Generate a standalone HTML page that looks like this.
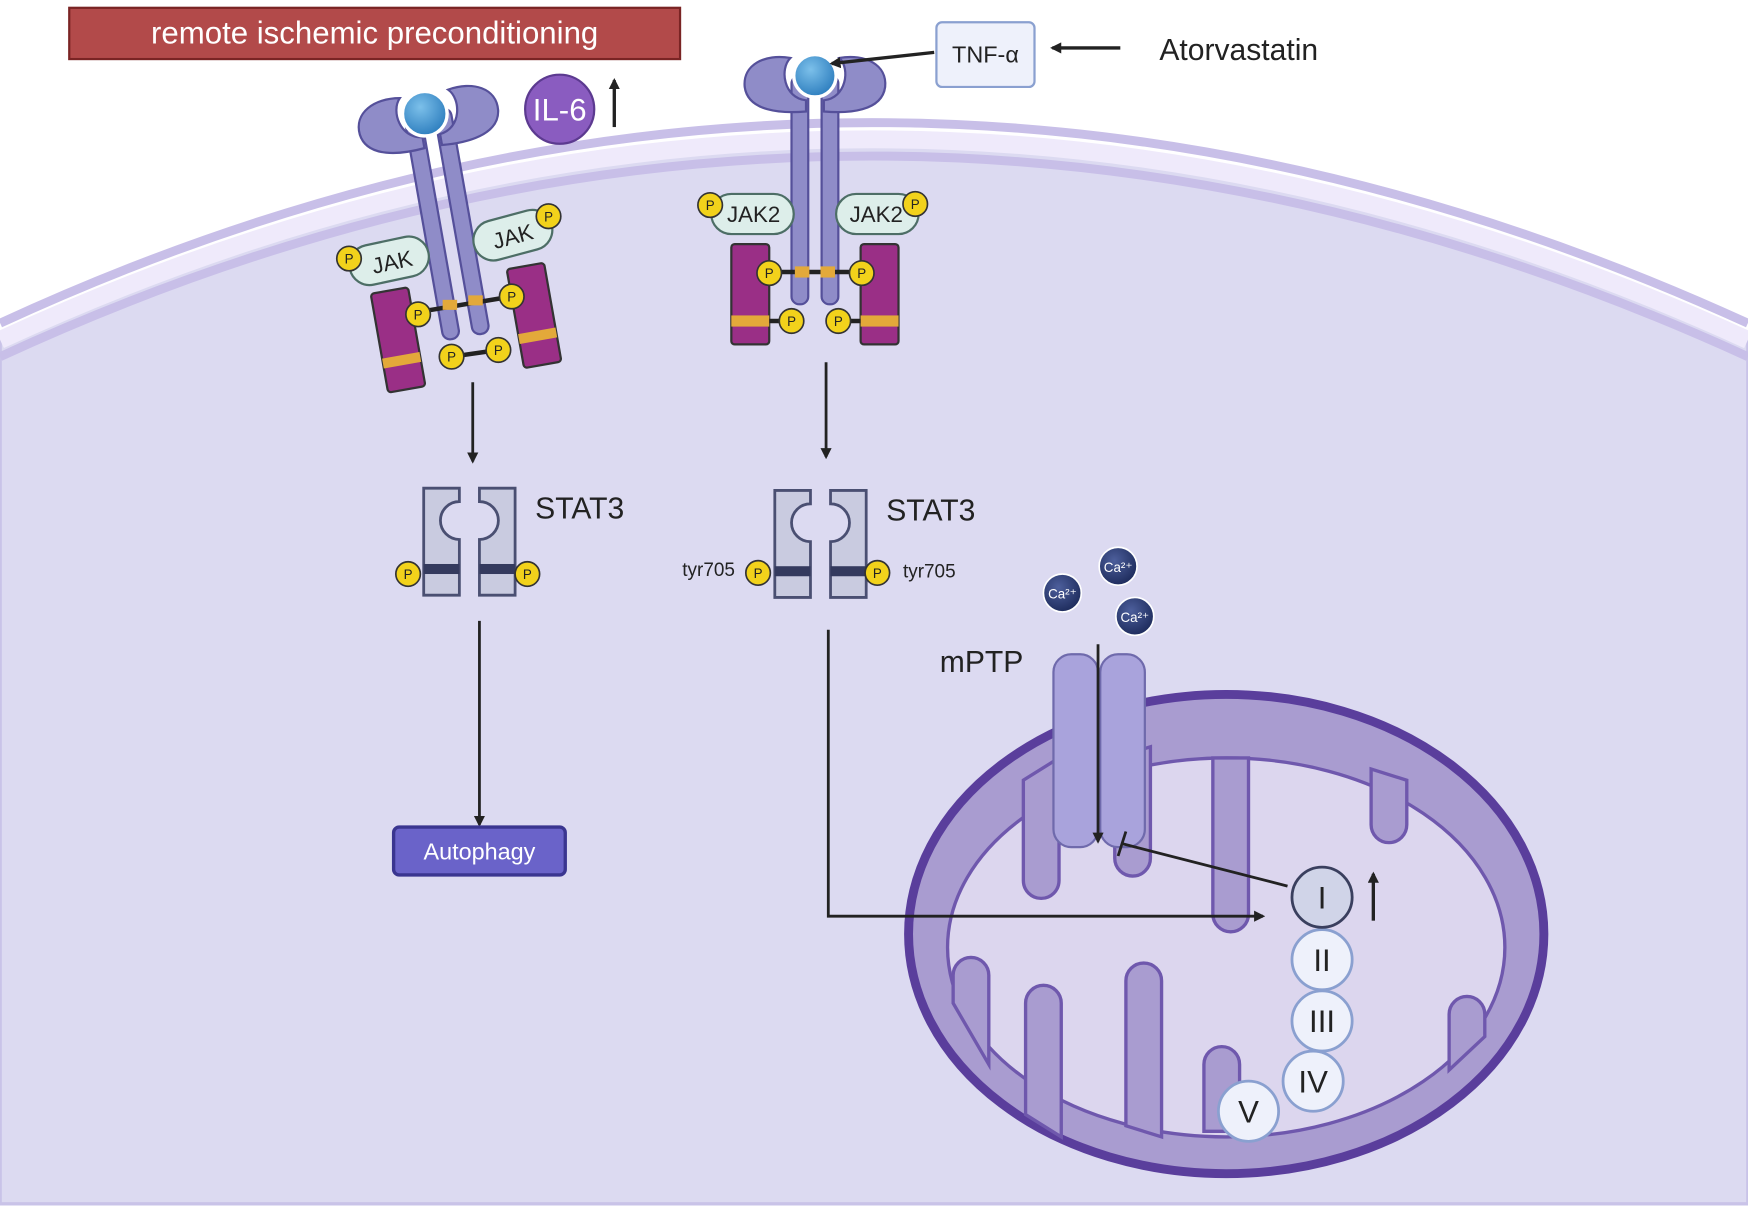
<!DOCTYPE html>
<html><head><meta charset="utf-8"><style>
html,body{margin:0;padding:0;background:#fff}
svg{display:block}
text{font-family:"Liberation Sans",sans-serif}
</style></head><body>
<svg width="1748" height="1206" viewBox="0 0 1568 1082" xmlns="http://www.w3.org/2000/svg">
<defs>
<marker id="ah" markerWidth="10" markerHeight="10" refX="8" refY="5" orient="auto" markerUnits="userSpaceOnUse"><path d="M0,0 L10,5 L0,10 z" fill="#222"/></marker>
<radialGradient id="lig" cx="40%" cy="35%" r="65%"><stop offset="0" stop-color="#7cc0ea"/><stop offset="1" stop-color="#2f7fbf"/></radialGradient>
<radialGradient id="ca" cx="40%" cy="35%" r="65%"><stop offset="0" stop-color="#4d5f9c"/><stop offset="1" stop-color="#1f2d5e"/></radialGradient>
<g id="P"><circle r="11" fill="#f2d21b" stroke="#333" stroke-width="1.5"/><text y="4.5" text-anchor="middle" font-size="12" fill="#222">P</text></g>
<g id="stat">
<path d="M0,0 h32 v12 a16,16 0 0 0 0,34 v50 h-32 z" fill="#c9cbe0" stroke="#4a4f72" stroke-width="2.5"/>
<path d="M82,0 h-32 v12 a16,16 0 0 1 0,34 v50 h32 z" fill="#c9cbe0" stroke="#4a4f72" stroke-width="2.5"/>
<rect x="0" y="68" width="32" height="9" fill="#343a5e"/><rect x="50" y="68" width="32" height="9" fill="#343a5e"/>
</g>
<g id="rec">
<rect x="-21" y="0" width="15" height="205" rx="7" fill="#8f8cc8" stroke="#55509a" stroke-width="2"/>
<rect x="6" y="0" width="15" height="205" rx="7" fill="#8f8cc8" stroke="#55509a" stroke-width="2"/>
<path d="M-8,32 C-30,34 -60,32 -63,10 C-65,-10 -45,-20 -22,-16 C-32,-6 -28,20 -8,22 Z" fill="#8f8cc8" stroke="#55509a" stroke-width="2"/>
<path d="M8,32 C30,34 60,32 63,10 C65,-10 45,-20 22,-16 C32,-6 28,20 8,22 Z" fill="#8f8cc8" stroke="#55509a" stroke-width="2"/>
</g>
</defs>
<!-- cell -->
<path d="M0,300 Q780,-60 1568,300 L1568,1080 L0,1080 Z" fill="#dcdaf1" stroke="#c9c3e8" stroke-width="3"/>
<path d="M0,290 Q780,-70 1568,290" fill="none" stroke="#c8bfe8" stroke-width="8"/>
<path d="M0,305 Q780,-55 1568,305" fill="none" stroke="#efeafb" stroke-width="16"/>
<path d="M0,320 Q780,-40 1568,320" fill="none" stroke="#c8bfe8" stroke-width="8"/>

<!-- title -->
<rect x="62" y="7" width="548" height="46" fill="#b24a4a" stroke="#7a2424" stroke-width="2"/>
<text x="336" y="39" text-anchor="middle" font-size="28" fill="#fff">remote ischemic preconditioning</text>

<!-- IL-6 -->
<circle cx="502" cy="98" r="31" fill="#8a5cc0" stroke="#5c3a90" stroke-width="2"/>
<text x="502" y="108" text-anchor="middle" font-size="28" fill="#fff">IL-6</text>
<line x1="551" y1="114" x2="551" y2="72" stroke="#222" stroke-width="3" marker-end="url(#ah)"/>

<!-- receptor 1 (tilted) -->
<rect x="340" y="260" width="34" height="90" rx="3" fill="#9a2f86" stroke="#333" stroke-width="2" transform="rotate(-10 357 305)"/>
<rect x="340" y="319" width="34" height="9" fill="#e3a93a" transform="rotate(-10 357 305)"/>
<rect x="462" y="238" width="34" height="90" rx="3" fill="#9a2f86" stroke="#333" stroke-width="2" transform="rotate(-10 479 283)"/>
<rect x="462" y="297" width="34" height="9" fill="#e3a93a" transform="rotate(-10 479 283)"/>
<g transform="translate(383,100) rotate(-10)"><use href="#rec"/></g>
<circle cx="381" cy="102" r="20" fill="url(#lig)" stroke="#fff" stroke-width="3"/>
<line x1="375" y1="280" x2="459" y2="266" stroke="#222" stroke-width="4"/>
<rect x="397" y="269" width="13" height="9" fill="#e3a93a"/><rect x="420" y="265" width="13" height="9" fill="#e3a93a"/>
<line x1="405" y1="320" x2="447" y2="314" stroke="#222" stroke-width="4"/>
<use href="#P" x="375" y="282"/><use href="#P" x="459" y="266"/><use href="#P" x="405" y="320"/><use href="#P" x="447" y="314"/>
<rect x="313" y="216" width="72" height="36" rx="18" fill="#ddeeea" stroke="#4d6e66" stroke-width="2" transform="rotate(-12 349 234)"/>
<text x="352" y="242" text-anchor="middle" font-size="20" fill="#222" transform="rotate(-12 352 236)">JAK</text>
<use href="#P" x="313" y="232"/>
<rect x="424" y="193" width="72" height="36" rx="18" fill="#ddeeea" stroke="#4d6e66" stroke-width="2" transform="rotate(-15 460 211)"/>
<text x="460" y="219" text-anchor="middle" font-size="20" fill="#222" transform="rotate(-15 460 212)">JAK</text>
<use href="#P" x="492" y="194"/>

<!-- receptor 2 -->
<rect x="656" y="219" width="34" height="90" rx="3" fill="#9a2f86" stroke="#333" stroke-width="2"/>
<rect x="772" y="219" width="34" height="90" rx="3" fill="#9a2f86" stroke="#333" stroke-width="2"/>
<rect x="656" y="283" width="34" height="10" fill="#e3a93a"/><rect x="772" y="283" width="34" height="10" fill="#e3a93a"/>
<g transform="translate(731,68)"><use href="#rec"/></g>
<circle cx="731" cy="68" r="19" fill="url(#lig)" stroke="#fff" stroke-width="3"/>
<line x1="690" y1="244" x2="772" y2="244" stroke="#222" stroke-width="4"/>
<rect x="713" y="239" width="13" height="10" fill="#e3a93a"/><rect x="736" y="239" width="13" height="10" fill="#e3a93a"/>
<line x1="690" y1="288" x2="710" y2="288" stroke="#222" stroke-width="4"/><line x1="752" y1="288" x2="772" y2="288" stroke="#222" stroke-width="4"/>
<use href="#P" x="690" y="245"/><use href="#P" x="773" y="245"/><use href="#P" x="710" y="288"/><use href="#P" x="752" y="288"/>
<rect x="638" y="174" width="74" height="36" rx="18" fill="#ddeeea" stroke="#4d6e66" stroke-width="2"/>
<text x="676" y="199" text-anchor="middle" font-size="20" fill="#222">JAK2</text>
<use href="#P" x="637" y="184"/>
<rect x="750" y="174" width="74" height="36" rx="18" fill="#ddeeea" stroke="#4d6e66" stroke-width="2"/>
<text x="786" y="199" text-anchor="middle" font-size="20" fill="#222">JAK2</text>
<use href="#P" x="821" y="183"/>

<!-- TNF -->
<rect x="840" y="20" width="88" height="58" rx="5" fill="#eef1fb" stroke="#8aa0d0" stroke-width="2"/>
<text x="884" y="56" text-anchor="middle" font-size="21" fill="#222">TNF-α</text>
<line x1="838" y1="47" x2="746" y2="57" stroke="#222" stroke-width="3" marker-end="url(#ah)"/>
<line x1="1005" y1="43" x2="944" y2="43" stroke="#222" stroke-width="3" marker-end="url(#ah)"/>
<text x="1040" y="54" font-size="27" fill="#222">Atorvastatin</text>

<!-- arrows to STAT3 -->
<line x1="424" y1="343" x2="424" y2="414" stroke="#222" stroke-width="2.5" marker-end="url(#ah)"/>
<line x1="741" y1="325" x2="741" y2="410" stroke="#222" stroke-width="2.5" marker-end="url(#ah)"/>

<!-- STAT3 -->
<use href="#stat" x="380" y="438"/>
<text x="480" y="465" font-size="27" fill="#222">STAT3</text>
<use href="#P" x="366" y="515"/><use href="#P" x="473" y="515"/>
<use href="#stat" x="695" y="440"/>
<text x="795" y="467" font-size="27" fill="#222">STAT3</text>
<use href="#P" x="680" y="514"/><use href="#P" x="787" y="514"/>
<text x="612" y="517" font-size="17" fill="#222">tyr705</text>
<text x="810" y="518" font-size="17" fill="#222">tyr705</text>

<line x1="430" y1="557" x2="430" y2="740" stroke="#222" stroke-width="2.5" marker-end="url(#ah)"/>
<rect x="353" y="742" width="154" height="43" rx="5" fill="#6a63c9" stroke="#3a3590" stroke-width="3"/>
<text x="430" y="771" text-anchor="middle" font-size="21" fill="#fff">Autophagy</text>

<!-- mitochondrion -->
<ellipse cx="1100" cy="838" rx="285" ry="215" fill="#a99cd0" stroke="#5a3e9c" stroke-width="8"/>
<ellipse cx="1100" cy="850" rx="250" ry="170" fill="#dcd6ee" stroke="#6f58ad" stroke-width="3"/>
<g fill="#a99cd0" stroke="#6f58ad" stroke-width="3">
<path d="M918,700 v90 a16,16 0 0 0 32,0 v-110 z"/>
<path d="M1000,680 v90 a16,16 0 0 0 32,0 v-100 z"/>
<path d="M1088,680 v140 a16,16 0 0 0 32,0 v-140 z"/>
<path d="M1230,690 v50 a16,16 0 0 0 32,0 v-40 z"/>
<path d="M855,900 v-25 a16,16 0 0 1 32,0 v80 z"/>
<path d="M920,1000 v-100 a16,16 0 0 1 32,0 v120 z"/>
<path d="M1010,1010 v-130 a16,16 0 0 1 32,0 v140 z"/>
<path d="M1080,1015 v-60 a16,16 0 0 1 32,0 v60 z"/>
<path d="M1300,960 v-50 a16,16 0 0 1 32,0 v20 z"/>
</g>
<!-- mPTP -->
<rect x="945" y="587" width="40" height="173" rx="16" fill="#a9a3dc" stroke="#6f6aac" stroke-width="2"/>
<rect x="987" y="587" width="40" height="173" rx="16" fill="#a9a3dc" stroke="#6f6aac" stroke-width="2"/>
<text x="843" y="603" font-size="27" fill="#222">mPTP</text>
<line x1="985" y1="578" x2="985" y2="755" stroke="#222" stroke-width="2.5" marker-end="url(#ah)"/>
<line x1="1155" y1="795" x2="1007" y2="757" stroke="#222" stroke-width="2.5"/>
<line x1="1003" y1="768" x2="1010" y2="746" stroke="#222" stroke-width="2.5"/>
<!-- Ca -->
<g font-size="12" fill="#fff" text-anchor="middle">
<circle cx="1003" cy="508" r="17" fill="url(#ca)" stroke="#fff" stroke-width="1.5"/><text x="1003" y="513">Ca²⁺</text>
<circle cx="953" cy="532" r="17" fill="url(#ca)" stroke="#fff" stroke-width="1.5"/><text x="953" y="537">Ca²⁺</text>
<circle cx="1018" cy="553" r="17" fill="url(#ca)" stroke="#fff" stroke-width="1.5"/><text x="1018" y="558">Ca²⁺</text>
</g>
<!-- STAT3 to complex -->
<path d="M743,565 V822 H1133" fill="none" stroke="#222" stroke-width="2.5" marker-end="url(#ah)"/>
<!-- complexes -->
<g font-size="28" fill="#222" text-anchor="middle" stroke-width="2.5">
<circle cx="1186" cy="861" r="27" fill="#eef1fb" stroke="#8aa0d0"/><text x="1186" y="871">II</text>
<circle cx="1186" cy="916" r="27" fill="#eef1fb" stroke="#8aa0d0"/><text x="1186" y="926">III</text>
<circle cx="1178" cy="970" r="27" fill="#eef1fb" stroke="#8aa0d0"/><text x="1178" y="980">IV</text>
<circle cx="1120" cy="997" r="27" fill="#eef1fb" stroke="#8aa0d0"/><text x="1120" y="1007">V</text>
<circle cx="1186" cy="805" r="27" fill="#d0d4e8" stroke="#3a3f5e"/><text x="1186" y="815">I</text>
</g>
<line x1="1232" y1="826" x2="1232" y2="784" stroke="#222" stroke-width="3" marker-end="url(#ah)"/>
</svg>
</body></html>
